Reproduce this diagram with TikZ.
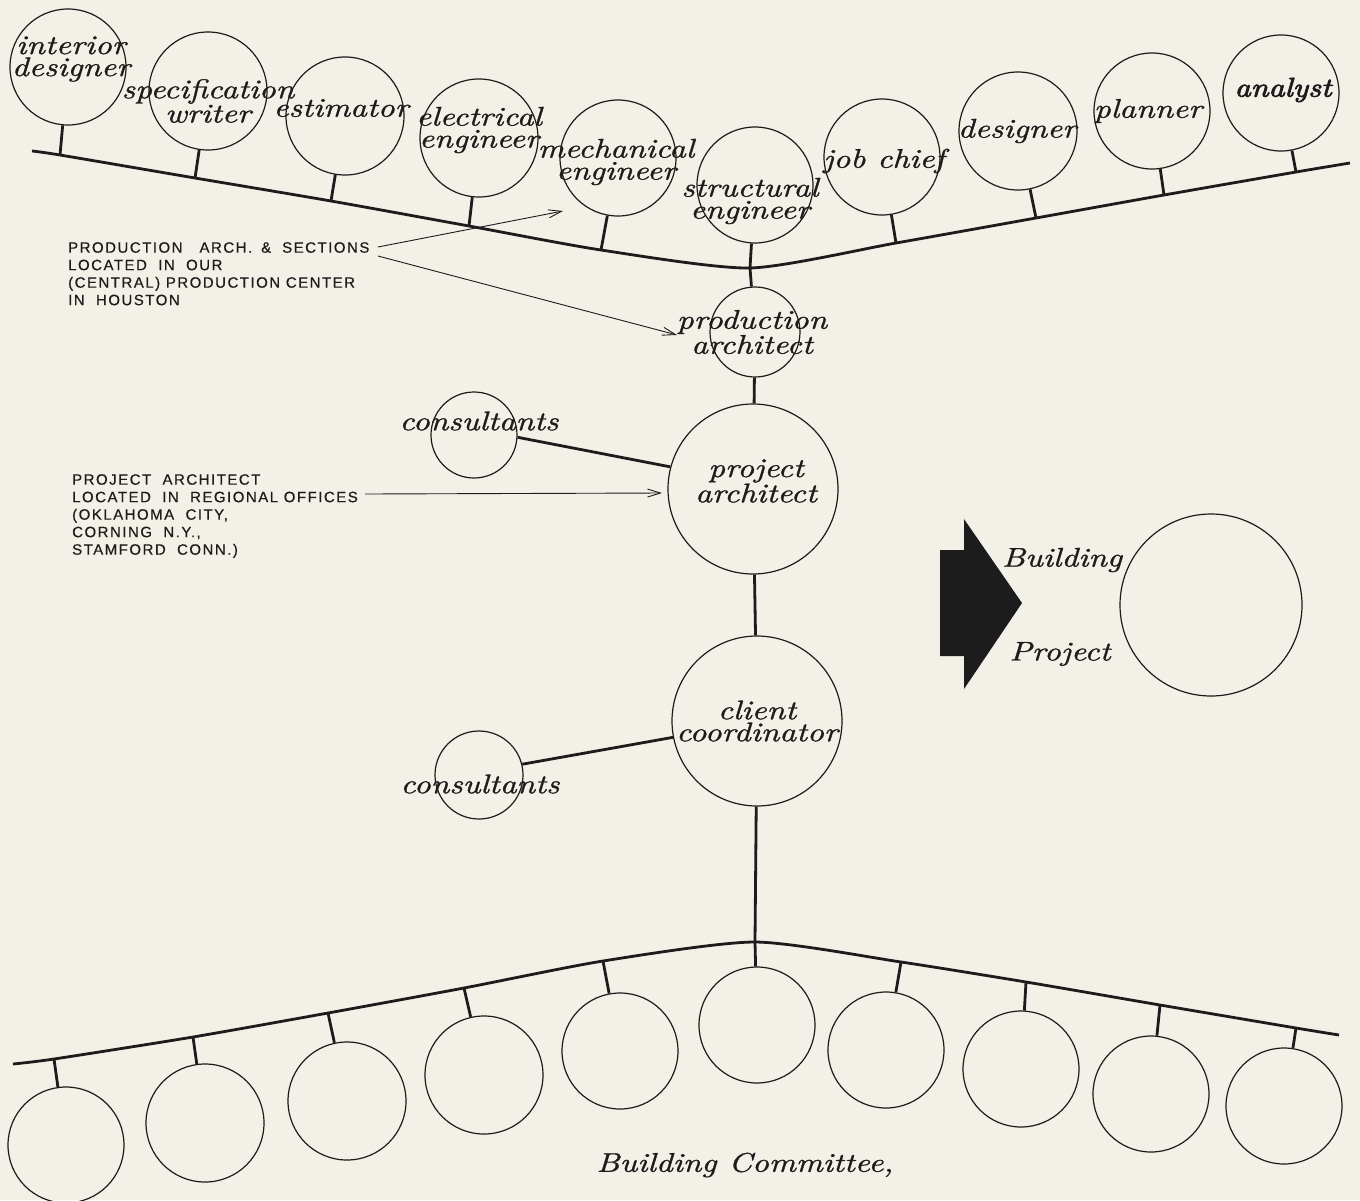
\documentclass[tikz,border=0pt]{standalone}
\usepackage{fontspec}
\usetikzlibrary{arrows.meta}
\newfontfamily\lettering[LetterSpace=10,FakeBold=0.5]{Liberation Sans}
\newfontfamily\hand{lmroman10-italic.otf}[FakeStretch=1.22,FakeBold=1]
\newfontfamily\handbold{lmroman10-italic.otf}[FakeStretch=1.17,FakeBold=3]
\definecolor{paper}{RGB}{243,240,231}
\definecolor{ink}{RGB}{28,28,28}
\begin{document}
\begin{tikzpicture}[x=1pt,y=-1pt,
  circ/.style={circle,draw=ink,line width=1.2pt,inner sep=0pt,minimum size=#1},
  circ/.default=116pt,
  hl/.style={font=\hand\fontsize{27}{22}\selectfont,align=center,inner sep=0pt,text=ink},
  heavy/.style={draw=ink,line width=2.8pt},
  thinline/.style={draw=ink,line width=0.9pt},
  tip/.style={-{Straight Barb[length=13pt,width=8pt]}},
  caps/.style={font=\lettering\fontsize{15}{17.5}\selectfont,align=left,inner sep=0pt,anchor=north west,text=ink}
]
\useasboundingbox (0,0) rectangle (1360,1200);
\fill[paper] (0,0) rectangle (1360,1200);

% ---------- top row ----------
\node[circ=116pt] (t1) at (68,67) {};
\node[circ=118pt] (t2) at (208,91) {};
\node[circ=118pt] (t3) at (345,116) {};
\node[circ=118pt] (t4) at (479,138) {};
\node[circ=116pt] (t5) at (618,158) {};
\node[circ=116pt] (t6) at (755,185) {};
\node[circ=116pt] (t7) at (882,157) {};
\node[circ=118pt] (t8) at (1018,131) {};
\node[circ=116pt] (t9) at (1152,111) {};
\node[circ=116pt] (t10) at (1281,93) {};

\coordinate (us) at (32,151);
\coordinate (u1) at (60,155);
\coordinate (u2) at (195,178);
\coordinate (u3) at (331,201);
\coordinate (u4) at (469,226);
\coordinate (u5) at (601,250);
\coordinate (u6) at (750,268);
\coordinate (u7) at (896,243);
\coordinate (u8) at (1036,218);
\coordinate (u9) at (1164,195);
\coordinate (u10) at (1296,172);
\coordinate (ue) at (1350,163);
\draw[heavy] plot[smooth,tension=0.4] coordinates {(us) (u1) (u2) (u3) (u4) (u5) (u6) (u7) (u8) (u9) (u10) (ue)};
\foreach \i in {1,...,10} \draw[heavy] (t\i) -- (u\i);

\node[hl] (l1) at (71,59) {interior\\designer};
\node[hl] (l2) at (208,101) {specification\\writer};
\node[hl] (l3) at (341,108) {estimator};
\node[hl] (l4) at (479,130) {electrical\\engineer};
\node[hl] (l5) at (616,162) {mechanical\\engineer};
\node[hl] (l6) at (750,201) {structural\\engineer};
\node[hl] (l7) at (884,161) {job chief};
\node[hl] (l8) at (1017,131) {designer};
\node[hl] (l9) at (1148,111) {planner};
\node[hl,font=\handbold\fontsize{27}{22}\selectfont] (l10) at (1283,90) {analyst};

% ---------- middle ----------
\node[circ=90pt] (prod) at (755,332) {};
\node[circ=170pt] (proj) at (753,489) {};
\node[circ=170pt] (client) at (757,721) {};
\node[circ=86pt] (cons1) at (474,435) {};
\node[circ=88pt] (cons2) at (479,775) {};
\node[circ=182pt] (bp) at (1211,605) {};

\node[hl] (lprod) at (752,332) {production\\architect};
\node[hl] (lproj) at (756,481) {project\\architect};
\node[hl] (lclient) at (757,721) {client\\coordinator};
\node[hl] (lcons1) at (479,421) {consultants};
\node[hl] (lcons2) at (480,784) {consultants};

\draw[heavy] (u6) -- (prod);
\draw[heavy] (prod) -- (proj);
\draw[heavy] (proj) -- (client);
\draw[heavy] (cons1.-3) -- (proj.165);
\draw[heavy] (cons2.14) -- (client.-169);

% ---------- notes ----------
\node[caps] (note1) at (68,242) {PRODUCTION\hspace{17pt}ARCH.\hspace{9pt}\&\hspace{11pt}SECTIONS\\LOCATED\ \ IN\ \ OUR\\(CENTRAL)\ PRODUCTION\ CENTER\\IN\ \ HOUSTON};
\coordinate (a1s) at (378,247);
\coordinate (a1t) at (563,211);
\coordinate (a2s) at (378,256);
\coordinate (a2t) at (677,335);
\draw[thinline,tip] (a1s) -- (a1t);
\draw[thinline,tip] (a2s) -- (a2t);

\node[caps] (note2) at (72,474) {PROJECT\ \ ARCHITECT\\LOCATED\ \ IN\ \ REGIONAL\ OFFICES\\(OKLAHOMA\ \ CITY,\\CORNING\ \ N.Y.,\\STAMFORD\ \ CONN.)};
\coordinate (a3s) at (365,494);
\coordinate (a3t) at (662,493);
\draw[thinline,tip] (a3s) -- (a3t);

% ---------- building project ----------
\fill[ink] (940,550) -- (964,550) -- (964,519) -- (1022,603) -- (964,689) -- (964,656) -- (940,656) -- cycle;
\node[hl] (lbuild) at (1062,560) {Building};
\node[hl] (lproject) at (1060,654) {Project};

% ---------- bottom row ----------
\node[circ=116pt] (b1) at (66,1145) {};
\node[circ=118pt] (b2) at (205,1123) {};
\node[circ=118pt] (b3) at (347,1101) {};
\node[circ=118pt] (b4) at (484,1075) {};
\node[circ=116pt] (b5) at (620,1051) {};
\node[circ=116pt] (b6) at (757,1025) {};
\node[circ=116pt] (b7) at (886,1050) {};
\node[circ=116pt] (b8) at (1021,1069) {};
\node[circ=116pt] (b9) at (1151,1094) {};
\node[circ=116pt] (b10) at (1284,1106) {};

\coordinate (vs) at (13,1064);
\coordinate (v1) at (54,1059);
\coordinate (v2) at (193,1037);
\coordinate (v3) at (328,1013);
\coordinate (v4) at (464,988);
\coordinate (v5) at (603,961);
\coordinate (v6) at (755,942);
\coordinate (v7) at (901,962);
\coordinate (v8) at (1026,982);
\coordinate (v9) at (1160,1005);
\coordinate (v10) at (1296,1028);
\coordinate (ve) at (1339,1035);
\draw[heavy] plot[smooth,tension=0.4] coordinates {(vs) (v1) (v2) (v3) (v4) (v5) (v6) (v7) (v8) (v9) (v10) (ve)};
\foreach \i in {1,...,10} \draw[heavy] (b\i) -- (v\i);
\draw[heavy] (client) -- (v6);

\node[hl] (lcomm) at (745,1165) {Building\hspace{12pt}Committee,};
\end{tikzpicture}
\end{document}
